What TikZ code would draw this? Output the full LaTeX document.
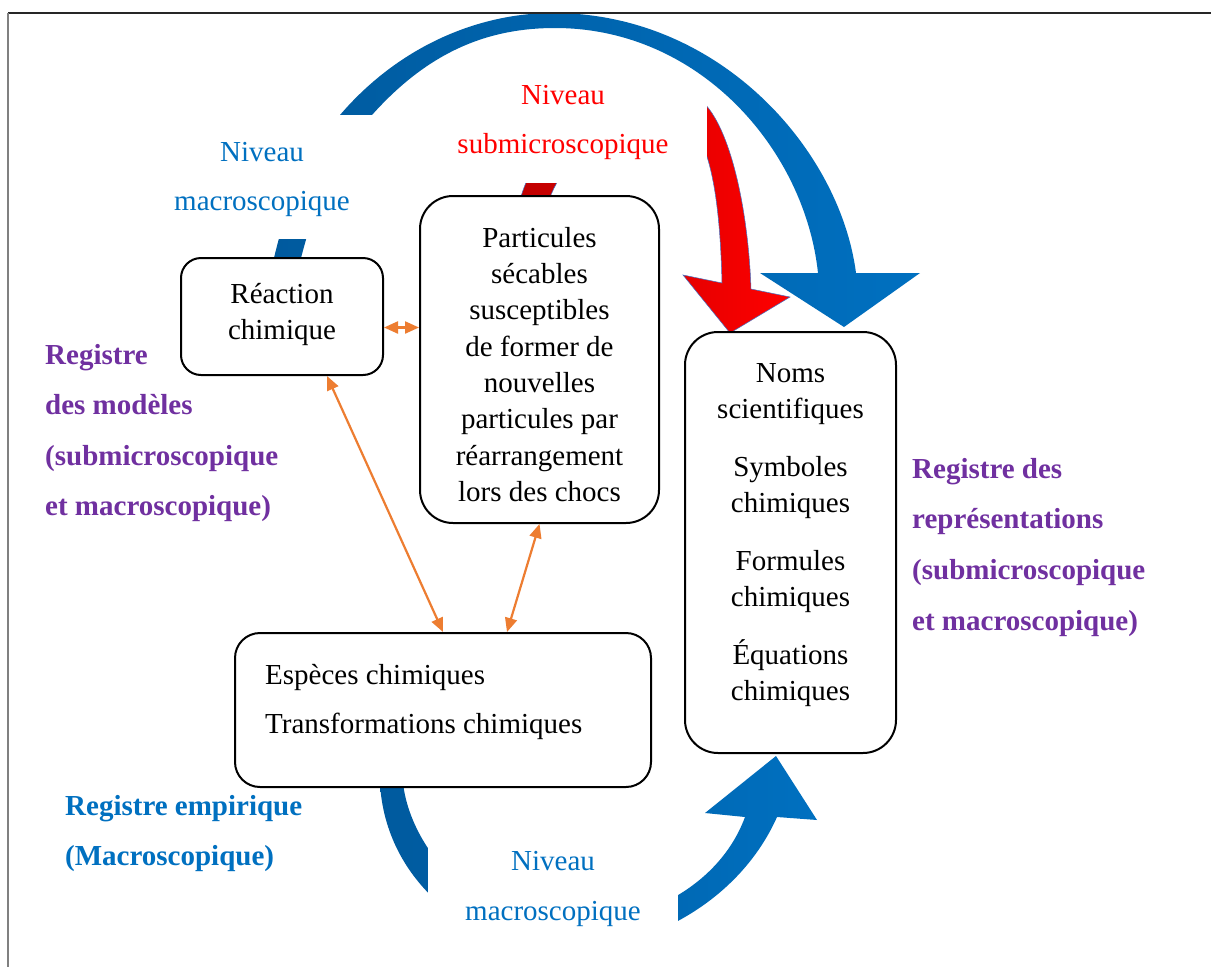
\documentclass[tikz,border=0pt]{standalone}
\usepackage{fontspec}
\setmainfont{Liberation Serif}
\usetikzlibrary{arrows.meta}
\definecolor{bluD}{HTML}{005A9E}
\definecolor{bluL}{HTML}{0070C0}
\definecolor{redD}{HTML}{C00000}
\definecolor{purp}{HTML}{7030A0}
\definecolor{orng}{HTML}{ED7D31}
\definecolor{outl}{HTML}{4472C4}
\newcommand{\fstrut}{\rule{0pt}{22pt}}
\begin{document}
\begin{tikzpicture}[x=1pt,y=-1pt,
  box/.style={draw=black, line width=2pt, fill=white, rounded corners=#1, inner sep=0pt},
  boxtext/.style={font=\fontsize{29}{36}\selectfont, align=center, inner sep=0pt, anchor=north},
  lbl/.style={font=\fontsize{29}{49.5}\selectfont, align=center, inner sep=0pt, anchor=north},
  reg/.style={font=\bfseries\fontsize{29}{50.5}\selectfont, align=left, inner sep=0pt, anchor=north west},
  oarrow/.style={draw=orng, line width=2.2pt, {Triangle[length=14pt,width=12pt]}-{Triangle[length=14pt,width=12pt]}},
  mask/.style={fill=white, draw=none}
]
\useasboundingbox (0,0) rectangle (1211,967);
\fill[white] (0,0) rectangle (1211,967);

% red curved arrow
\shadedraw[left color=redD, middle color=red, right color=red, draw=outl, line width=0.5pt]
 (520,200) .. controls (545,110) and (640,85) .. (685,92)
 .. controls (725,98) and (748,200) .. (751,289)
 -- (790,297) -- (730,333) -- (683,275) -- (722,283)
 .. controls (720,200) and (710,122) .. (675,118)
 .. controls (640,115) and (570,140) .. (549,200) -- cycle;
\fill[mask] (450,70) rectangle (707,183);

% top blue curved arrow
\shade[left color=bluD, middle color=bluD!60!bluL, right color=bluL]
 (273,262) .. controls (290,190) and (310,150) .. (340,115)
 .. controls (400,45) and (480,13) .. (553,13)
 .. controls (720,13) and (840,150) .. (856,273)
 -- (920,273) -- (844,327) -- (760,273) -- (818,273)
 .. controls (805,150) and (700,28) .. (555,28)
 .. controls (490,28) and (430,50) .. (372,115)
 .. controls (340,150) and (318,190) .. (300,262) -- cycle;
\fill[mask] (150,115) rectangle (385,239);

% bottom blue curved arrow
\shade[left color=bluD, middle color=bluD!50!bluL, right color=bluL]
 (380,783) .. controls (385,880) and (470,950) .. (565,950)
 .. controls (650,950) and (740,900) .. (777,817)
 -- (817,820) -- (776,756) -- (705,813) -- (745,817)
 .. controls (720,885) and (645,925) .. (565,925)
 .. controls (470,922) and (410,845) .. (403,783) -- cycle;
\fill[mask] (428,830) rectangle (678,967);

% boxes
\node[box=20pt, minimum width=202pt, minimum height=117pt] (reac) at (282,316.5) {};
\node[box=33pt, minimum width=239pt, minimum height=327pt] (part) at (539.5,359.5) {};
\node[box=33pt, minimum width=211pt, minimum height=421pt] (noms) at (790.5,542.5) {};
\node[box=25pt, minimum width=416pt, minimum height=154pt] (esp) at (443,710) {};

% box texts
\node[boxtext] (reactxt) at (282,281) {\fstrut R\'eaction\\chimique};
\node[boxtext, font=\fontsize{29}{36.3}\selectfont] (parttxt) at (539.5,225)
 {\fstrut Particules\\s\'ecables\\susceptibles\\de former de\\nouvelles\\particules par\\r\'earrangement\\lors des chocs};
\node[boxtext] (nomstxt) at (790.5,360)
 {\fstrut Noms\\scientifiques\\[22pt]Symboles\\chimiques\\[22pt]Formules\\chimiques\\[22pt]\'Equations\\chimiques};
\node[boxtext, font=\fontsize{29}{49}\selectfont, align=left, anchor=north west] (esptxt) at (265,662)
 {\fstrut Esp\`eces chimiques\\Transformations chimiques};

% level labels
\node[lbl, text=bluL] (lvltl) at (262,139) {\fstrut Niveau\\macroscopique};
\node[lbl, text=red] (lvlred) at (563,82) {\fstrut Niveau\\submicroscopique};
\node[lbl, text=bluL, font=\fontsize{29}{50}\selectfont] (lvlbot) at (553,848) {\fstrut Niveau\\macroscopique};

% register labels
\node[reg, text=purp] (regmod) at (45,342) {\fstrut Registre\\des mod\`eles\\(submicroscopique\\et macroscopique)};
\node[reg, text=purp, font=\bfseries\fontsize{29}{50.7}\selectfont] (regrep) at (912,456) {\fstrut Registre des\\repr\'esentations\\(submicroscopique\\et macroscopique)};
\node[reg, text=bluL, font=\bfseries\fontsize{29}{50}\selectfont] (regemp) at (65,793) {\fstrut Registre empirique\\(Macroscopique)};

% orange connectors
\coordinate (oa1) at ([yshift=-11pt]reac.east);
\coordinate (oa2) at (oa1 -| part.west);
\draw[oarrow] (oa1) -- (oa2);
\draw[oarrow] ([xshift=45pt]reac.south) -- (esp.north);
\draw[oarrow] (part.south) -- ([xshift=64pt]esp.north);

% frame lines
\draw[line width=1.5pt, black!85] (8,13) -- (1211,13);
\draw[line width=2pt, black!50] (8,13) -- (8,967);
\end{tikzpicture}
\end{document}
